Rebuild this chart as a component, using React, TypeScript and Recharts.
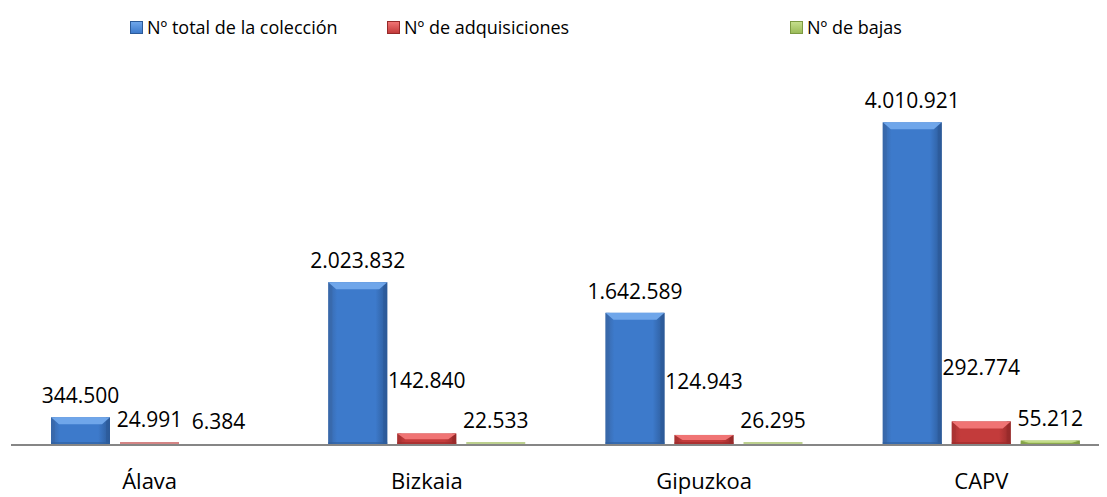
import React from "react";
import {
  BarChart,
  Bar,
  XAxis,
  YAxis,
  LabelList,
  Legend,
} from "recharts";

const regions = ["Álava", "Bizkaia", "Gipuzkoa", "CAPV"];
const totalColeccion = [344500, 2023832, 1642589, 4010921];
const adquisiciones = [24991, 142840, 124943, 292774];
const bajas = [6384, 22533, 26295, 55212];

const seriesNames = [
  "Nº total de la colección",
  "Nº de adquisiciones",
  "Nº de bajas",
];

const data = regions.map((region, i) => ({
  region,
  total: totalColeccion[i],
  adq: adquisiciones[i],
  bajas: bajas[i],
}));

const FONT = "'Open Sans', 'Noto Sans', sans-serif";

// bevel palettes, Excel 2007 look
const palettes = {
  blue: { body: "#3d7acb", left: "#3867a8", right: "#2c5a98", top: "#6fa6ea", bottom: "#2f5f9f", thin: "#7fa6d8" },
  red: { body: "#c33b3b", left: "#a83232", right: "#962a2a", top: "#f07474", bottom: "#9c2c2c", thin: "#d48585" },
  green: { body: "#9bbb59", left: "#87a64a", right: "#7d9a42", top: "#c5de8c", bottom: "#839f47", thin: "#bcd08e" },
};

type Pal = typeof palettes.blue;

function makeBevel(p: Pal, id: string) {
  return function BevelBar(props: any) {
    const { x, y, width, height } = props;
    if (height == null || height <= 0) return null;
    // sub-pixel bars just disappear into the axis
    if (height < 1) {
      return <rect x={x} y={y} width={width} height={height} fill={p.thin} />;
    }
    // very thin bars: excel still shows the bevel edge
    if (height < 4) {
      return <rect x={x} y={y + height - 3} width={width} height={3} fill={p.thin} />;
    }
    const b = Math.min(7, height / 2);
    const e = Math.min(4, width / 6);
    return (
      <g>
        <rect x={x} y={y} width={width} height={height} fill={`url(#grad-${id})`} />
        <rect x={x} y={y} width={e} height={height} fill={p.left} opacity={0.6} />
        <rect x={x + width - e} y={y} width={e} height={height} fill={p.right} opacity={0.7} />
        <rect x={x} y={y + height - Math.min(3, b)} width={width} height={Math.min(3, b)} fill={p.bottom} opacity={0.6} />
        <polygon
          points={`${x},${y} ${x + width},${y} ${x + width - e * 2},${y + b} ${x + e * 2},${y + b}`}
          fill={p.top}
        />
      </g>
    );
  };
}

const BlueBar = makeBevel(palettes.blue, "blue");
const RedBar = makeBevel(palettes.red, "red");
const GreenBar = makeBevel(palettes.green, "green");

function fmt(v: number) {
  return v.toString().replace(/\B(?=(\d{3})+(?!\d))/g, ".");
}

function makeLabel(kind: "blue" | "red" | "green") {
  return function ValueLabel(props: any) {
    const { x, y, width, height, value } = props;
    let off = 22;
    if (kind === "red") off = height > 5 ? 54 : 24;
    if (kind === "green") off = 23;
    return (
      <text
        x={x + width / 2}
        y={y - off}
        textAnchor="middle"
        dominantBaseline="central"
        fill="#000"
        fontSize={21}
        fontFamily={FONT}
      >
        {fmt(value)}
      </text>
    );
  };
}

const legendColors = [palettes.blue, palettes.red, palettes.green];
const legendLeft = [122, 379, 782];

function LegendContent() {
  return (
    <div style={{ position: "relative", height: 40, width: "100%" }}>
      {seriesNames.map((name, i) => (
        <div
          key={name}
          style={{
            position: "absolute",
            left: legendLeft[i],
            top: 0,
            display: "flex",
            alignItems: "center",
            fontFamily: FONT,
            fontSize: 18,
            color: "#000",
            whiteSpace: "nowrap",
          }}
        >
          <span
            style={{
              display: "inline-block",
              width: 13,
              height: 13,
              marginRight: 4,
              background: `linear-gradient(${legendColors[i].top}, ${legendColors[i].body})`,
              border: `1px solid ${legendColors[i].right}`,
              boxSizing: "border-box",
            }}
          />
          {name}
        </div>
      ))}
    </div>
  );
}

export default function App() {
  return (
    <div style={{ width: 1112, height: 489, overflow: "hidden", background: "#fff" }}>
      <BarChart
        width={1112}
        height={489}
        data={data}
        margin={{ top: 35, right: 0, left: 3, bottom: 2 }}
        barSize={59}
        barGap={10}
      >
        <defs>
          {(["blue", "red", "green"] as const).map((k) => (
            <linearGradient key={k} id={`grad-${k}`} x1="0" y1="0" x2="1" y2="0">
              <stop offset="0%" stopColor={palettes[k].left} />
              <stop offset="15%" stopColor={palettes[k].body} />
              <stop offset="80%" stopColor={palettes[k].body} />
              <stop offset="100%" stopColor={palettes[k].right} />
            </linearGradient>
          ))}
        </defs>
        <Legend
          verticalAlign="top"
          align="left"
          content={<LegendContent />}
          wrapperStyle={{ top: 7, left: 0, width: 1112 }}
        />
        <XAxis
          dataKey="region"
          height={50}
          axisLine={{ stroke: "#868686", strokeWidth: 2 }}
          tickLine={false}
          tickMargin={22}
          tick={{ fill: "#000", fontSize: 22, fontFamily: FONT }}
          interval={0}
        />
        <YAxis hide domain={[0, 4500000]} />
        <Bar dataKey="total" name={seriesNames[0]} shape={<BlueBar />} isAnimationActive={false}>
          <LabelList dataKey="total" content={makeLabel("blue")} />
        </Bar>
        <Bar dataKey="adq" name={seriesNames[1]} shape={<RedBar />} isAnimationActive={false}>
          <LabelList dataKey="adq" content={makeLabel("red")} />
        </Bar>
        <Bar dataKey="bajas" name={seriesNames[2]} shape={<GreenBar />} isAnimationActive={false}>
          <LabelList dataKey="bajas" content={makeLabel("green")} />
        </Bar>
      </BarChart>
    </div>
  );
}
